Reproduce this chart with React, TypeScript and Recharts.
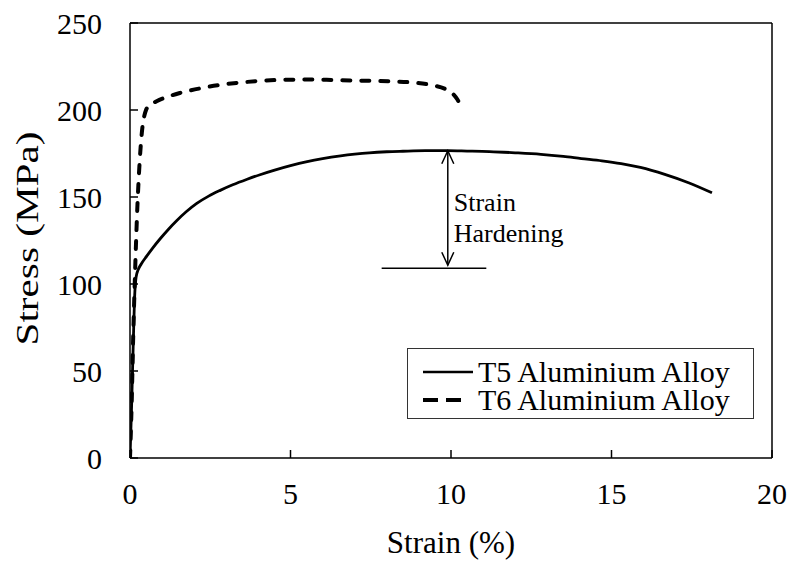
import { LineChart, Line, XAxis, YAxis, ReferenceLine, Legend } from "recharts";

const FONT = '"Liberation Serif", "Times New Roman", serif';

// tensile test curves, strain in %, stress in MPa
const t5Strain = [0, 0.05, 0.1, 0.15, 0.19, 0.25, 0.35, 0.52, 0.7, 0.94, 1.2, 1.46, 1.75, 2.08, 2.45, 2.81, 3.2, 3.65, 4.05, 4.48, 5.0, 5.52, 6.0, 6.56, 7.0, 7.45, 8.0, 8.5, 9.2, 9.9, 10.5, 11.2, 12.0, 12.8, 13.5, 14.06, 14.7, 15.3, 15.9, 16.66, 17.4, 18.13];
const t5Stress = [0, 30, 65, 95, 104, 108, 111.5, 116, 120.5, 126, 131.5, 136.5, 141.5, 146.3, 150.5, 153.8, 157, 160.2, 162.8, 165.3, 168, 170.3, 172, 173.6, 174.6, 175.4, 176, 176.3, 176.6, 176.6, 176.4, 176.1, 175.4, 174.5, 173.3, 172.1, 170.8, 169.2, 167, 163, 158.2, 152.4];

const t6Strain = [0, 0.05, 0.1, 0.15, 0.22, 0.3, 0.4, 0.45, 0.5, 0.6, 0.83, 1.2, 1.56, 2.2, 2.8, 3.45, 4.2, 4.9, 5.6, 6.4, 7.4, 8.1, 8.8, 9.4, 9.8, 10.0, 10.2, 10.34];
const t6Stress = [0, 30, 70, 102, 140, 170, 192, 197, 200, 202.5, 205, 207.8, 209.8, 212.5, 214.4, 215.8, 216.9, 217.4, 217.5, 217.2, 216.8, 216.5, 215.8, 214.3, 212.3, 210.3, 206, 201];

const xTicks = [0, 5, 10, 15, 20];
const yTicks = [0, 50, 100, 150, 200, 250];

// strain hardening marker: arrow from peak down to yield level
const hardeningArrow = [{ x: 9.9, y: 176.6 }, { x: 9.9, y: 110.8 }];
const yieldLevel = [{ x: 7.84, y: 109 }, { x: 11.1, y: 109 }];

const t5Data = t5Strain.map((s, i) => ({ strain: s, stress: t5Stress[i] }));
const t6Data = t6Strain.map((s, i) => ({ strain: s, stress: t6Stress[i] }));

const tickStyle = { fill: "#000", fontSize: 30, fontFamily: FONT };

function ArrowShape(props: any) {
  const { x1, y1, x2, y2 } = props;
  const head = 13;
  const half = 6;
  const mid = (y1 + y2) / 2;
  return (
    <g>
      <g stroke="#000" strokeWidth={1.5} fill="none">
        <line x1={x1} y1={y1} x2={x2} y2={y2} />
        <polyline points={`${x1 - half},${y1 + head} ${x1},${y1} ${x1 + half},${y1 + head}`} />
        <polyline points={`${x2 - half},${y2 - head} ${x2},${y2} ${x2 + half},${y2 - head}`} />
      </g>
      <text x={x1 + 6} y={mid + 3} fontSize={26} fontFamily={FONT} fill="#000">Strain</text>
      <text x={x1 + 6} y={mid + 34} fontSize={26} fontFamily={FONT} fill="#000">Hardening</text>
    </g>
  );
}

function LegendBox({ payload }: any) {
  return (
    <div
      style={{
        width: 345,
        height: 60,
        border: "1px solid #333",
        background: "#fff",
        fontFamily: FONT,
        fontSize: 30,
        color: "#000",
        paddingTop: 9,
        boxSizing: "content-box",
      }}
    >
      {(payload || []).map((entry: any) => {
        const dashed = entry.value.startsWith("T6");
        return (
          <div key={entry.value} style={{ display: "flex", alignItems: "center", height: 28, lineHeight: "28px" }}>
            <svg width={70} height={10} style={{ flex: "none" }}>
              <line
                x1={15}
                y1={5}
                x2={dashed ? 53 : 65}
                y2={5}
                stroke="#000"
                strokeWidth={dashed ? 4 : 2.5}
                strokeDasharray={dashed ? "15 8" : undefined}
              />
            </svg>
            <span>{entry.value}</span>
          </div>
        );
      })}
    </div>
  );
}

export default function App() {
  return (
    <div style={{ position: "absolute", left: 0, top: 0, background: "#fff" }}>
      <LineChart width={792} height={562} margin={{ top: 23, right: 20, bottom: 44, left: 0 }}>
        <XAxis
          type="number"
          dataKey="strain"
          domain={[0, 20]}
          ticks={xTicks}
          allowDataOverflow
          height={60}
          stroke="#000"
          strokeWidth={1.5}
          tickSize={-8}
          tickMargin={33}
          tick={tickStyle}
          label={({ viewBox }: any) => (
            <text
              x={viewBox.x + viewBox.width / 2}
              y={viewBox.y + 95}
              textAnchor="middle"
              fontSize={31}
              fontFamily={FONT}
              fill="#000"
            >
              Strain (%)
            </text>
          )}
        />
        <YAxis
          type="number"
          domain={[0, 250]}
          ticks={yTicks}
          allowDataOverflow
          width={130}
          stroke="#000"
          strokeWidth={1.5}
          tickSize={-8}
          tickMargin={36}
          tick={tickStyle}
          label={({ viewBox }: any) => {
            const cx = 27;
            const cy = viewBox.y + viewBox.height / 2 - 2;
            return (
              <text
                x={cx}
                y={cy}
                transform={`rotate(-90 ${cx} ${cy})`}
                textAnchor="middle"
                dominantBaseline="central"
                fontSize={32}
                fontFamily={FONT}
                fill="#000"
                textLength={214}
                lengthAdjust="spacingAndGlyphs"
              >
                Stress (MPa)
              </text>
            );
          }}
        />
        <ReferenceLine y={250} stroke="#000" strokeWidth={1.5} />
        <ReferenceLine x={20} stroke="#000" strokeWidth={1.5} />
        <ReferenceLine segment={yieldLevel} stroke="#000" strokeWidth={1.5} />
        <ReferenceLine segment={hardeningArrow} shape={ArrowShape} />
        <Line
          data={t5Data}
          dataKey="stress"
          name="T5 Aluminium Alloy"
          type="monotone"
          stroke="#000"
          strokeWidth={2.8}
          dot={false}
          isAnimationActive={false}
        />
        <Line
          data={t6Data}
          dataKey="stress"
          name="T6 Aluminium Alloy"
          type="monotone"
          stroke="#000"
          strokeWidth={4}
          strokeDasharray="8 11"
          strokeLinecap="round"
          dot={false}
          isAnimationActive={false}
        />
        <Legend
          layout="vertical"
          align="center"
          verticalAlign="middle"
          content={LegendBox}
          wrapperStyle={{ left: 407, top: 348, width: 347, height: 71 }}
        />
      </LineChart>
    </div>
  );
}
